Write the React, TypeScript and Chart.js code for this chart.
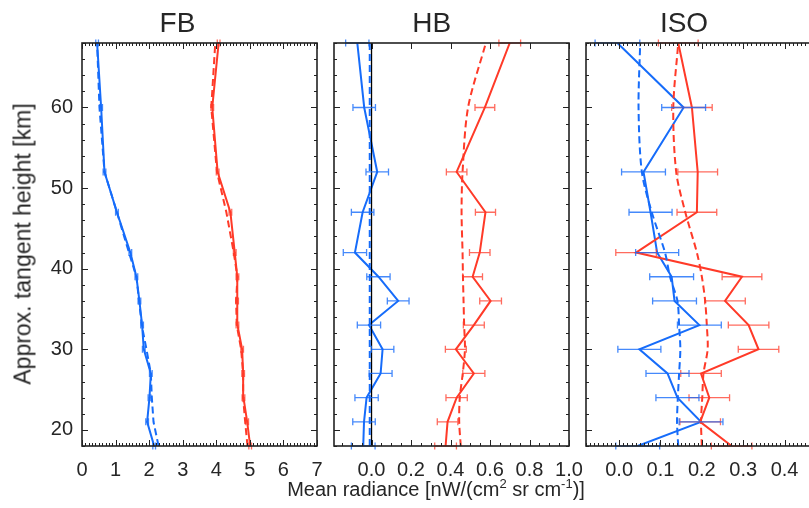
import React, { useEffect, useRef } from 'react';
import { Chart, registerables } from 'chart.js';

Chart.register(...registerables);

// ---------- data ----------
const HEIGHTS = [18, 21, 24, 27, 30, 33, 36, 39, 42, 47, 52, 60, 68];

const FB_BLUE_OBS = [2.15, 1.94, 2.01, 2.05, 1.84, 1.79, 1.71, 1.62, 1.44, 1.04, 0.67, 0.57, 0.45];
const FB_BLUE_ERR = [0.04, 0.04, 0.04, 0.04, 0.04, 0.04, 0.04, 0.04, 0.04, 0.04, 0.04, 0.04, 0.04];
const FB_BLUE_MOD = [2.28, 2.13, 2.08, 2.05, 1.92, 1.78, 1.7, 1.62, 1.4, 1.04, 0.67, 0.52, 0.45];
const FB_RED_OBS = [5.01, 4.92, 4.81, 4.8, 4.77, 4.63, 4.62, 4.63, 4.55, 4.42, 4.04, 3.88, 4.07];
const FB_RED_ERR = [0.04, 0.04, 0.04, 0.04, 0.04, 0.04, 0.04, 0.04, 0.04, 0.04, 0.04, 0.04, 0.04];
const FB_RED_MOD = [4.93, 4.86, 4.8, 4.8, 4.74, 4.61, 4.59, 4.63, 4.52, 4.3, 4.02, 3.85, 3.97];

const HB_BLUE_OBS = [-0.042, -0.038, -0.025, 0.046, 0.056, -0.013, 0.135, 0.035, -0.084, -0.045, 0.029, -0.037, -0.072];
const HB_BLUE_ERR = [0.06, 0.057, 0.059, 0.058, 0.057, 0.059, 0.055, 0.059, 0.059, 0.057, 0.057, 0.057, 0.059];
const HB_BLUE_MOD = [-0.009, -0.009, -0.009, -0.009, -0.009, -0.009, -0.009, -0.009, -0.009, -0.009, -0.009, -0.009, -0.009];
const HB_RED_OBS = [0.375, 0.385, 0.431, 0.518, 0.427, 0.518, 0.603, 0.512, 0.548, 0.577, 0.431, 0.574, 0.7];
const HB_RED_ERR = [0.055, 0.052, 0.054, 0.056, 0.053, 0.053, 0.055, 0.05, 0.052, 0.051, 0.052, 0.05, 0.055];
const HB_RED_MOD = [0.452, 0.444, 0.447, 0.462, 0.473, 0.469, 0.466, 0.463, 0.461, 0.456, 0.461, 0.489, 0.579];
const HB_ZERO_X = [0, 0];
const HB_ZERO_Y = [18, 68];

const ISO_BLUE_OBS = [0.045, 0.198, 0.141, 0.117, 0.049, 0.194, 0.134, 0.127, 0.092, 0.076, 0.059, 0.156, -0.004];
const ISO_BLUE_ERR = [0.053, 0.053, 0.052, 0.052, 0.052, 0.053, 0.053, 0.053, 0.052, 0.052, 0.053, 0.053, 0.054];
const ISO_BLUE_MOD = [0.143, 0.14, 0.142, 0.145, 0.148, 0.145, 0.141, 0.123, 0.111, 0.079, 0.055, 0.047, 0.051];
const ISO_RED_OBS = [0.272, 0.196, 0.218, 0.198, 0.337, 0.313, 0.256, 0.297, 0.041, 0.188, 0.19, 0.176, 0.143];
const ISO_RED_ERR = [0.049, 0.049, 0.049, 0.049, 0.049, 0.049, 0.049, 0.048, 0.049, 0.048, 0.048, 0.049, 0.048];
const ISO_RED_MOD = [0.2, 0.198, 0.201, 0.204, 0.214, 0.212, 0.208, 0.2, 0.188, 0.16, 0.138, 0.131, 0.143];

const Y_TICKS = [20, 30, 40, 50, 60];
const FB_TICKS = [0, 1, 2, 3, 4, 5, 6, 7];
const HB_TICKS = [0, 0.2, 0.4, 0.6, 0.8, 1.0];
const ISO_TICKS = [0, 0.1, 0.2, 0.3, 0.4];

const TITLES = ['FB', 'HB', 'ISO'];
const Y_TITLE = 'Approx. tangent height [km]';

// ---------- style ----------
const FONT = '"Liberation Sans", Arial, Helvetica, sans-serif';
const BLUE = 'rgb(22,108,250)';
const RED = 'rgb(255,58,40)';
const BLUE_ERR = 'rgba(22,108,250,0.8)';
const RED_ERR = 'rgba(255,58,40,0.75)';
const TEXT = '#262626';

const TOP = 43;
const BOTTOM = 446;
const H = 508;

const framePlugin = {
  id: 'frameTicks',
  afterDraw(chart: any, _args: any, opts: any) {
    const { ctx, chartArea: a, scales } = chart;
    const xs = scales.x;
    const ys = scales.y;
    ctx.save();
    ctx.strokeStyle = '#222';
    ctx.lineWidth = 1;
    const eps = 1e-6;
    for (let k = Math.ceil(xs.min / opts.xMinor - eps); k * opts.xMinor <= xs.max + eps; k++) {
      const v = k * opts.xMinor;
      const r = v / opts.xMajor;
      const major = Math.abs(r - Math.round(r)) < 1e-4;
      const len = major ? 6 : 3;
      const px = Math.round(xs.getPixelForValue(v)) + 0.5;
      ctx.beginPath();
      ctx.moveTo(px, a.bottom);
      ctx.lineTo(px, a.bottom - len);
      if (major || opts.topMinor) {
        ctx.moveTo(px, a.top);
        ctx.lineTo(px, a.top + len);
      }
      ctx.stroke();
    }
    for (let k = Math.ceil(ys.min / opts.yMinor - eps); k * opts.yMinor <= ys.max + eps; k++) {
      const v = k * opts.yMinor;
      const r = v / opts.yMajor;
      const major = Math.abs(r - Math.round(r)) < 1e-4;
      const len = major ? 6 : 3;
      const py = Math.round(ys.getPixelForValue(v)) + 0.5;
      ctx.beginPath();
      ctx.moveTo(a.left, py);
      ctx.lineTo(a.left + len, py);
      ctx.moveTo(a.right, py);
      ctx.lineTo(a.right - len, py);
      ctx.stroke();
    }
    ctx.lineWidth = 1.6;
    ctx.strokeRect(a.left, a.top, a.right - a.left, a.bottom - a.top);
    ctx.restore();
  },
};

const errorBarPlugin = {
  id: 'errorBars',
  afterDatasetsDraw(chart: any) {
    const { ctx, scales } = chart;
    const xs = scales.x;
    const ys = scales.y;
    ctx.save();
    chart.data.datasets.forEach((ds: any) => {
      if (!ds.errors) return;
      ctx.strokeStyle = ds.errColor;
      ctx.lineWidth = 1.3;
      ds.data.forEach((p: any, i: number) => {
        const e = ds.errors[i];
        const x0 = xs.getPixelForValue(p.x - e);
        const x1 = xs.getPixelForValue(p.x + e);
        const y = ys.getPixelForValue(p.y);
        ctx.beginPath();
        ctx.moveTo(x0, y);
        ctx.lineTo(x1, y);
        ctx.moveTo(x0, y - 3.5);
        ctx.lineTo(x0, y + 3.5);
        ctx.moveTo(x1, y - 3.5);
        ctx.lineTo(x1, y + 3.5);
        ctx.stroke();
      });
    });
    ctx.restore();
  },
};

const pts = (xs: number[], ys: number[]) => xs.map((x, i) => ({ x, y: ys[i] }));

const line = (values: number[], color: string, dashed: boolean, errors?: number[], errColor?: string, tension = 0) => ({
  data: pts(values, HEIGHTS),
  showLine: true,
  borderColor: color,
  backgroundColor: color,
  borderWidth: 2,
  borderDash: dashed ? [7, 4] : [],
  pointRadius: 0,
  tension,
  errors,
  errColor,
});

type PanelCfg = {
  areaLeft: number;
  areaRight: number;
  xMin: number;
  xMax: number;
  ticks: number[];
  fmt: (v: number) => string;
  xMinor: number;
  xMajor: number;
  topMinor: boolean;
  showY: boolean;
  datasets: any[];
};

const PANELS: PanelCfg[] = [
  {
    areaLeft: 82,
    areaRight: 317,
    xMin: 0,
    xMax: 7,
    ticks: FB_TICKS,
    fmt: (v) => String(Math.round(v)),
    xMinor: 0.1,
    xMajor: 1,
    topMinor: true,
    showY: true,
    datasets: [
      line(FB_BLUE_MOD, BLUE, true),
      line(FB_BLUE_OBS, BLUE, false, FB_BLUE_ERR, BLUE_ERR),
      line(FB_RED_MOD, RED, true),
      line(FB_RED_OBS, RED, false, FB_RED_ERR, RED_ERR),
    ],
  },
  {
    areaLeft: 334,
    areaRight: 569,
    xMin: -0.19,
    xMax: 1.0,
    ticks: HB_TICKS,
    fmt: (v) => v.toFixed(1),
    xMinor: 0.05,
    xMajor: 0.2,
    topMinor: false,
    showY: false,
    datasets: [
      line(HB_BLUE_MOD, BLUE, true),
      {
        data: pts(HB_ZERO_X, HB_ZERO_Y),
        showLine: true,
        borderColor: '#000',
        borderWidth: 1.3,
        pointRadius: 0,
      },
      line(HB_BLUE_OBS, BLUE, false, HB_BLUE_ERR, BLUE_ERR),
      line(HB_RED_MOD, RED, true, undefined, undefined, 0.3),
      line(HB_RED_OBS, RED, false, HB_RED_ERR, RED_ERR),
    ],
  },
  {
    areaLeft: 586,
    areaRight: 821,
    xMin: -0.08,
    xMax: 0.488,
    ticks: ISO_TICKS,
    fmt: (v) => v.toFixed(1),
    xMinor: 0.01,
    xMajor: 0.1,
    topMinor: true,
    showY: false,
    datasets: [
      line(ISO_BLUE_MOD, BLUE, true, undefined, undefined, 0.3),
      line(ISO_RED_MOD, RED, true, undefined, undefined, 0.3),
      line(ISO_RED_OBS, RED, false, ISO_RED_ERR, RED_ERR),
      line(ISO_BLUE_OBS, BLUE, false, ISO_BLUE_ERR, BLUE_ERR),
    ],
  },
];

const PAD = 30;

function canvasBox(p: PanelCfg) {
  const left = p.showY ? 0 : p.areaLeft - PAD;
  const width = p.areaRight + PAD - left;
  return { left, width };
}

export default function App() {
  const refs = [useRef<HTMLCanvasElement>(null), useRef<HTMLCanvasElement>(null), useRef<HTMLCanvasElement>(null)];

  useEffect(() => {
    const charts = PANELS.map((p, idx) => {
      const cv = refs[idx].current!;
      const tickFont = { family: FONT, size: 20 };
      return new Chart(cv, {
        type: 'scatter',
        data: { datasets: p.datasets as any },
        plugins: [framePlugin, errorBarPlugin],
        options: {
          responsive: false,
          animation: false,
          devicePixelRatio: 1,
          events: [],
          layout: {
            padding: { left: p.showY ? 0 : PAD, right: PAD, top: TOP, bottom: 0 },
          },
          plugins: {
            legend: { display: false },
            tooltip: { enabled: false },
            frameTicks: { xMinor: p.xMinor, xMajor: p.xMajor, topMinor: p.topMinor, yMinor: 2, yMajor: 10 },
          } as any,
          scales: {
            x: {
              type: 'linear',
              min: p.xMin,
              max: p.xMax,
              afterBuildTicks: (s: any) => {
                s.ticks = p.ticks.map((v) => ({ value: v }));
              },
              afterFit: (s: any) => {
                s.height = H - BOTTOM;
              },
              grid: { display: false, drawTicks: false },
              border: { display: false },
              ticks: {
                padding: 12,
                autoSkip: false,
                maxRotation: 0,
                font: tickFont,
                color: TEXT,
                callback: (v: any) => p.fmt(Number(v)),
              },
            },
            y: {
              type: 'linear',
              min: 18,
              max: 68,
              display: p.showY,
              afterBuildTicks: (s: any) => {
                s.ticks = Y_TICKS.map((v) => ({ value: v }));
              },
              afterFit: (s: any) => {
                s.width = p.showY ? p.areaLeft : 0;
              },
              grid: { display: false, drawTicks: false },
              border: { display: false },
              ticks: {
                padding: 9,
                font: tickFont,
                color: TEXT,
                callback: (v: any) => String(v),
              },
            },
          },
        },
      });
    });
    return () => charts.forEach((c) => c.destroy());
  }, []);

  const titleCenters = [177.5, 431.7, 684];

  return (
    <div
      style={{
        position: 'fixed',
        left: 0,
        top: 0,
        width: 809,
        height: H,
        overflow: 'hidden',
        background: '#fff',
        fontFamily: FONT,
        color: TEXT,
      }}
    >
      {PANELS.map((p, i) => {
        const b = canvasBox(p);
        return (
          <canvas
            key={i}
            ref={refs[i]}
            width={b.width}
            height={H}
            style={{ position: 'absolute', left: b.left, top: 0, width: b.width, height: H }}
          />
        );
      })}
      {TITLES.map((t, i) => (
        <div
          key={t}
          style={{
            position: 'absolute',
            left: titleCenters[i],
            top: 8.6,
            fontSize: 28,
            lineHeight: '28px',
            whiteSpace: 'nowrap',
            transform: 'translateX(-50%)',
          }}
        >
          {t}
        </div>
      ))}
      <div
        style={{
          position: 'absolute',
          left: 22.5,
          top: 244,
          fontSize: 23,
          lineHeight: '23px',
          whiteSpace: 'nowrap',
          transform: 'translate(-50%, -50%) rotate(-90deg)',
        }}
      >
        {Y_TITLE}
      </div>
      <div
        style={{
          position: 'absolute',
          left: 436,
          top: 478.6,
          fontSize: 20,
          lineHeight: '20px',
          whiteSpace: 'nowrap',
          transform: 'translateX(-50%)',
        }}
      >
        Mean radiance [nW/(cm<sup style={{ fontSize: 13, lineHeight: 0 }}>2</sup> sr cm
        <sup style={{ fontSize: 13, lineHeight: 0 }}>-1</sup>)]
      </div>
    </div>
  );
}
